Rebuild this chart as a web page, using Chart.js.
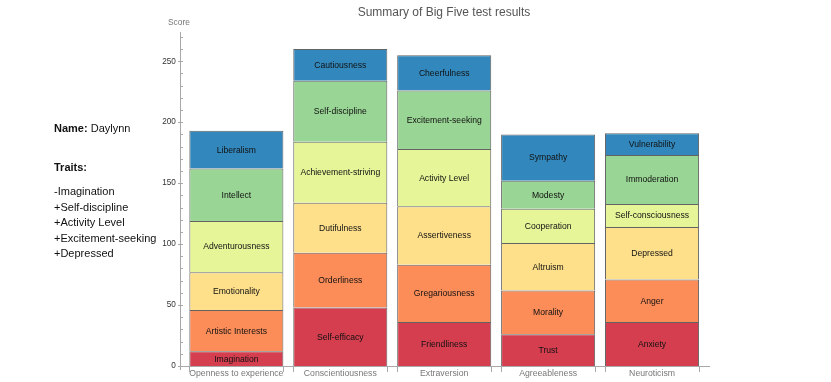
<!DOCTYPE html>
<html>
<head>
<meta charset="utf-8">
<script src="https://cdn.jsdelivr.net/npm/chart.js@4/dist/chart.umd.min.js"></script>
<style>
  html, body { margin: 0; padding: 0; background: #ffffff; }
  body { width: 831px; height: 382px; position: relative; overflow: hidden; font-family: "Liberation Sans", Arial, sans-serif; }
  #c { position: absolute; left: 0; top: 0; }
  .t { position: absolute; white-space: nowrap; }
  #title { left: 0; width: 888px; text-align: center; top: 4px; font-size: 12px; color: #555; line-height: 16px; }
  #score { left: 168px; top: 17px; font-size: 8.4px; color: #777; line-height: 10px; }
  #info { left: 54px; top: 0; font-size: 11px; color: #111; }
  #info .l { position: absolute; left: 0; line-height: 14px; white-space: nowrap; }
</style>
</head>
<body>
<canvas id="c" width="831" height="382"></canvas>
<div id="title" class="t">Summary of Big Five test results</div>
<div id="score" class="t">Score</div>
<div id="info" class="t"></div>
<script>
// ---------- data ----------
const categories = ["Openness to experience", "Conscientiousness", "Extraversion", "Agreeableness", "Neuroticism"];

// facet names per category, bottom to top
const opennessFacets = ["Imagination", "Artistic Interests", "Emotionality", "Adventurousness", "Intellect", "Liberalism"];
const conscientiousnessFacets = ["Self-efficacy", "Orderliness", "Dutifulness", "Achievement-striving", "Self-discipline", "Cautiousness"];
const extraversionFacets = ["Friendliness", "Gregariousness", "Assertiveness", "Activity Level", "Excitement-seeking", "Cheerfulness"];
const agreeablenessFacets = ["Trust", "Morality", "Altruism", "Cooperation", "Modesty", "Sympathy"];
const neuroticismFacets = ["Anxiety", "Anger", "Depressed", "Self-consciousness", "Immoderation", "Vulnerability"];

// score of facet level 1..6 (bottom to top) for each category
const level1 = [12, 48, 36, 26, 36];
const level2 = [34, 45, 47, 36, 35];
const level3 = [31, 41, 48, 39, 43];
const level4 = [42, 50, 47, 28, 19];
const level5 = [43, 50, 48, 23, 40];
const level6 = [31, 26, 29, 38, 18];

const yTicks = [0, 50, 100, 150, 200, 250];

const personName = "Daylynn";
const traits = ["-Imagination", "+Self-discipline", "+Activity Level", "+Excitement-seeking", "+Depressed"];

// ---------- build ----------
const facetTable = [opennessFacets, conscientiousnessFacets, extraversionFacets, agreeablenessFacets, neuroticismFacets];
const levels = [level1, level2, level3, level4, level5, level6];
const colors = ["#d53e4f", "#fc8d59", "#fee08b", "#e6f598", "#99d594", "#3288bd"];

// side text
const info = document.getElementById('info');
function addLine(html, top) {
  const d = document.createElement('div');
  d.className = 'l';
  d.style.top = top + 'px';
  d.innerHTML = html;
  info.appendChild(d);
}
addLine('<b>Name:</b> ' + personName, 121);
addLine('<b>Traits:</b>', 160);
traits.forEach((t, i) => addLine(t, 184 + i * 15.5));

const FONT = '"Liberation Sans", Arial, sans-serif';
const AXIS_X = 180;
const AXIS_COLOR = '#a8a8a8';

const axesPlugin = {
  id: 'axesPlugin',
  afterDatasetsDraw(chart) {
    const ctx = chart.ctx;
    const y = chart.scales.y;
    const ca = chart.chartArea;
    const y0 = y.getPixelForValue(0);
    ctx.save();
    ctx.strokeStyle = AXIS_COLOR;
    ctx.lineWidth = 1;
    // y axis line
    ctx.beginPath();
    ctx.moveTo(AXIS_X + 0.5, ca.top);
    ctx.lineTo(AXIS_X + 0.5, y0 + 4);
    ctx.stroke();
    // y ticks
    for (let v = 0; v <= y.max; v += 10) {
      const py = Math.round(y.getPixelForValue(v)) + 0.5;
      ctx.beginPath();
      if (v % 50 === 0) { ctx.moveTo(AXIS_X - 2, py); ctx.lineTo(AXIS_X + 3, py); }
      else { ctx.moveTo(AXIS_X, py); ctx.lineTo(AXIS_X + 3, py); }
      ctx.stroke();
    }
    // x axis line
    ctx.beginPath();
    ctx.moveTo(AXIS_X, Math.round(y0) + 0.5);
    ctx.lineTo(ca.right + 6, Math.round(y0) + 0.5);
    ctx.stroke();
    // x ticks at bar edges
    const meta = chart.getDatasetMeta(0);
    meta.data.forEach(el => {
      [el.x - el.width / 2, el.x + el.width / 2].forEach(px => {
        const xx = Math.round(px) + 0.5;
        ctx.beginPath();
        ctx.moveTo(xx, Math.round(y0));
        ctx.lineTo(xx, Math.round(y0) + 6);
        ctx.stroke();
      });
    });
    // segment labels
    ctx.fillStyle = '#111';
    ctx.font = '8.6px ' + FONT;
    ctx.textAlign = 'center';
    ctx.textBaseline = 'middle';
    chart.data.datasets.forEach((ds, di) => {
      const m = chart.getDatasetMeta(di);
      m.data.forEach((el, ci) => {
        const name = facetTable[ci][di];
        ctx.fillText(name, el.x, (el.y + el.base) / 2 + 0.5);
      });
    });
    ctx.restore();
  }
};

new Chart(document.getElementById('c'), {
  type: 'bar',
  data: {
    labels: categories,
    datasets: levels.map((vals, i) => ({
      label: 'Level ' + (i + 1),
      data: vals,
      backgroundColor: colors[i],
      borderColor: 'rgba(60,60,60,0.8)',
      borderWidth: { top: 1, left: 1, right: 1, bottom: 0 },
      borderSkipped: false,
      barPercentage: 0.905,
      categoryPercentage: 1.0
    }))
  },
  options: {
    responsive: false,
    devicePixelRatio: 1,
    animation: false,
    events: [],
    layout: { padding: { left: 0, right: 127, top: 32, bottom: 0 } },
    plugins: { legend: { display: false }, tooltip: { enabled: false }, title: { display: false } },
    scales: {
      x: {
        stacked: true,
        grid: { display: false, drawTicks: false },
        border: { display: false },
        ticks: { color: '#777', font: { family: FONT, size: 8.7 }, padding: 2, maxRotation: 0, autoSkip: false },
        afterFit(s) { s.height = 16; }
      },
      y: {
        stacked: true,
        min: 0,
        max: 274,
        grid: { display: false, drawTicks: false },
        border: { display: false },
        afterBuildTicks(s) { s.ticks = yTicks.map(v => ({ value: v })); },
        ticks: { color: '#333', font: { family: FONT, size: 8.2 }, padding: 8.5 },
        afterFit(s) { s.width = 184.4; }
      }
    }
  },
  plugins: [axesPlugin]
});
</script>
</body>
</html>
